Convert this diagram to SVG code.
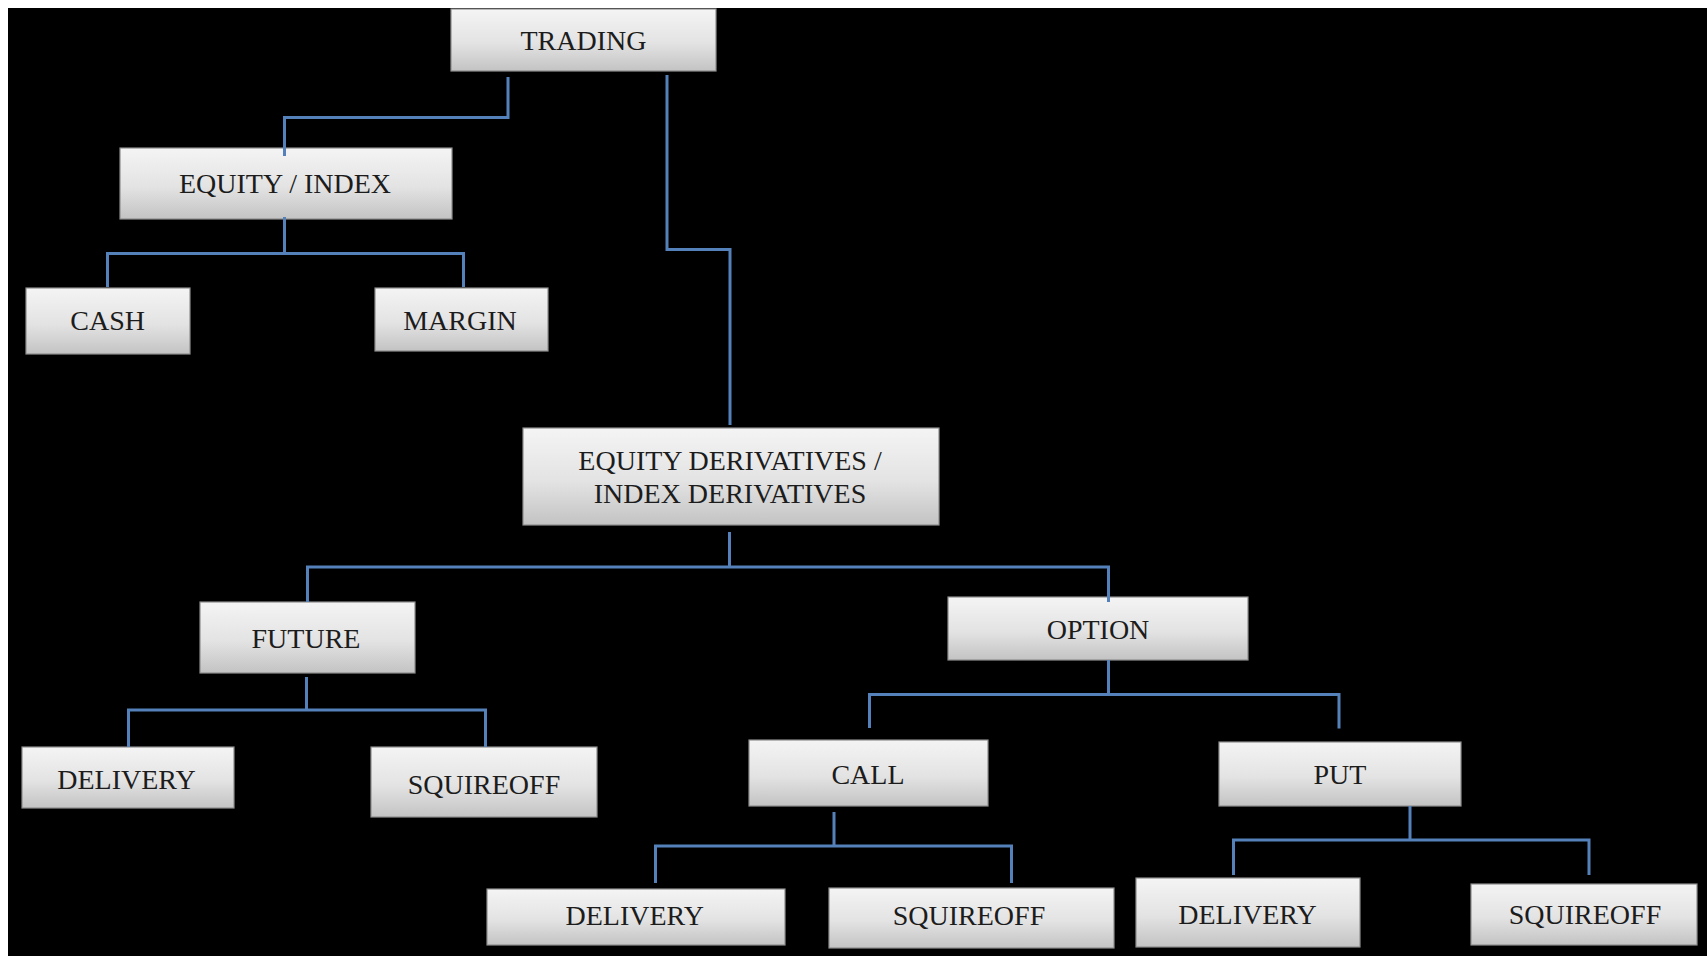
<svg xmlns="http://www.w3.org/2000/svg" width="1707" height="956" viewBox="0 0 1707 956">
  <defs>
    <linearGradient id="boxFill" x1="0" y1="0" x2="0" y2="1">
      <stop offset="0" stop-color="#f4f4f4"/>
      <stop offset="0.55" stop-color="#e3e3e3"/>
      <stop offset="1" stop-color="#c3c3c3"/>
    </linearGradient>
    <style>
      .box { fill: url(#boxFill); stroke: #8e8e8e; stroke-width: 1.2; }
      .label { font-family: "Liberation Serif", "Times New Roman", serif; font-size: 28px; fill: #1c1c1c; text-anchor: middle; }
      .link { fill: none; stroke: #5581bb; stroke-width: 3; stroke-linejoin: miter; }
    </style>
  </defs>

  <!-- page background -->
  <rect x="0" y="0" width="1707" height="956" fill="#ffffff"/>
  <rect x="8" y="8" width="1699" height="948" fill="#000000"/>

  <!-- nodes -->
  <g id="trading">
    <rect class="box" x="451" y="9" width="265" height="62"/>
    <text class="label" x="583.5" y="49.5">TRADING</text>
  </g>
  <g id="equity-index">
    <rect class="box" x="120" y="148" width="332" height="71"/>
    <text class="label" x="285" y="192.5">EQUITY / INDEX</text>
  </g>
  <g id="cash">
    <rect class="box" x="26" y="288" width="164" height="66"/>
    <text class="label" x="107.6" y="330">CASH</text>
  </g>
  <g id="margin">
    <rect class="box" x="375" y="288" width="173" height="63"/>
    <text class="label" x="460" y="329.5">MARGIN</text>
  </g>
  <g id="derivatives">
    <rect class="box" x="523" y="428" width="416" height="97"/>
    <text class="label" x="730" y="470">EQUITY DERIVATIVES /</text>
    <text class="label" x="730" y="502.7">INDEX DERIVATIVES</text>
  </g>
  <g id="future">
    <rect class="box" x="200" y="602" width="215" height="71"/>
    <text class="label" x="306" y="648">FUTURE</text>
  </g>
  <g id="option">
    <rect class="box" x="948" y="597" width="300" height="63"/>
    <text class="label" x="1098" y="638.5">OPTION</text>
  </g>
  <g id="future-delivery">
    <rect class="box" x="22" y="747" width="212" height="61"/>
    <text class="label" x="126.5" y="788.5">DELIVERY</text>
  </g>
  <g id="future-squireoff">
    <rect class="box" x="371" y="747" width="226" height="70"/>
    <text class="label" x="484" y="793.5">SQUIREOFF</text>
  </g>
  <g id="call">
    <rect class="box" x="749" y="740" width="239" height="66"/>
    <text class="label" x="868" y="783.5">CALL</text>
  </g>
  <g id="put">
    <rect class="box" x="1219" y="742" width="242" height="64"/>
    <text class="label" x="1340" y="783.5">PUT</text>
  </g>
  <g id="call-delivery">
    <rect class="box" x="487" y="889" width="298" height="56"/>
    <text class="label" x="634.7" y="925">DELIVERY</text>
  </g>
  <g id="call-squireoff">
    <rect class="box" x="829" y="888" width="285" height="60"/>
    <text class="label" x="969" y="925">SQUIREOFF</text>
  </g>
  <g id="put-delivery">
    <rect class="box" x="1136" y="878" width="224" height="69"/>
    <text class="label" x="1247.5" y="923.5">DELIVERY</text>
  </g>
  <g id="put-squireoff">
    <rect class="box" x="1471" y="884" width="226" height="61"/>
    <text class="label" x="1585" y="923.5">SQUIREOFF</text>
  </g>

  <!-- connectors -->
  <g id="connectors">
    <path class="link" d="M508,77 V117.5 H284.5 V156"/>
    <path class="link" d="M667,75 V249.5 H730 V425"/>
    <path class="link" d="M284.5,217 V253.5"/>
    <path class="link" d="M107.5,287 V253.5 H463.5 V287"/>
    <path class="link" d="M729.5,532 V567"/>
    <path class="link" d="M307.5,602 V567 H1108.5 V602"/>
    <path class="link" d="M306.5,677 V710"/>
    <path class="link" d="M128.5,747 V710 H485.5 V747"/>
    <path class="link" d="M1108.5,660 V694.5"/>
    <path class="link" d="M869.5,728 V694.5 H1339 V728.5"/>
    <path class="link" d="M834,812 V846"/>
    <path class="link" d="M655.5,883 V846 H1011.5 V883"/>
    <path class="link" d="M1410,806 V840"/>
    <path class="link" d="M1233.5,875 V840 H1589 V875"/>
  </g>
</svg>
